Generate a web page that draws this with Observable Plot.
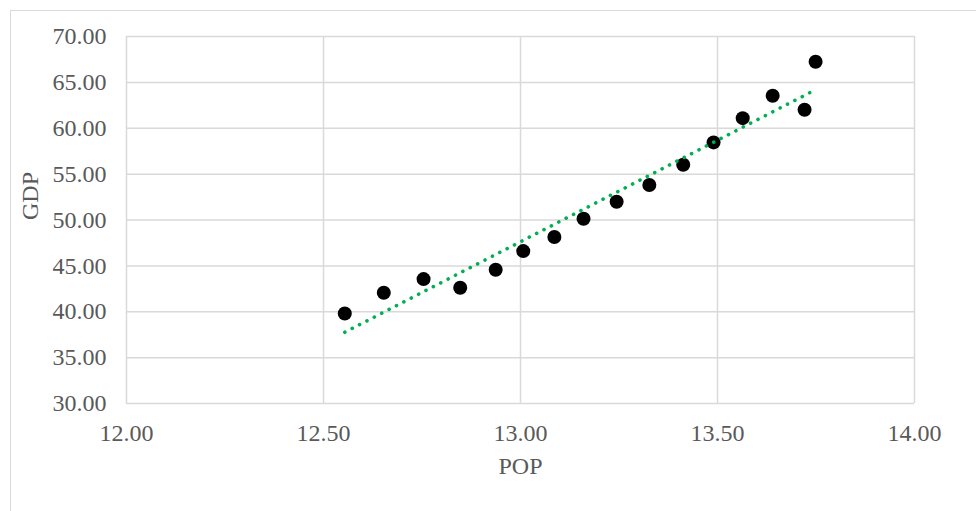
<!DOCTYPE html>
<html>
<head>
<meta charset="utf-8">
<script src="https://cdn.jsdelivr.net/npm/d3@7"></script>
<script src="https://cdn.jsdelivr.net/npm/@observablehq/plot@0.6"></script>
<style>
  html, body { margin: 0; padding: 0; background: #fff; }
  #wrap { position: relative; width: 976px; height: 511px; overflow: hidden; }
  #border {
    position: absolute; left: 10px; top: 10px; width: 1200px; height: 1200px;
    border-top: 1.5px solid #d9d9d9; border-left: 1.5px solid #d9d9d9;
  }
  #chart { position: absolute; left: 0; top: 0; }
  #chart svg { background: transparent; }
</style>
</head>
<body>
<div id="wrap"><div id="border"></div><div id="chart"></div></div>
<script>
// Population (POP) and GDP per observation
const pop = [12.554, 12.653, 12.754, 12.847, 12.937, 13.007, 13.086, 13.160,
             13.244, 13.327, 13.413, 13.490, 13.564, 13.640, 13.721, 13.749];
const gdp = [39.81, 42.07, 43.56, 42.61, 44.58, 46.61, 48.14, 50.14,
             51.99, 53.81, 56.02, 58.46, 61.10, 63.55, 62.02, 67.25];

const xTicks = [12, 12.5, 13, 13.5, 14];
const yTicks = [30, 35, 40, 45, 50, 55, 60, 65, 70];
const xTitle = "POP";
const yTitle = "GDP";

const rows = pop.map((p, i) => ({pop: p, gdp: gdp[i]}));

const font = "'Liberation Serif', 'Times New Roman', serif";
const textColor = "#595959";
const gridColor = "#d9d9d9";

const chart = Plot.plot({
  width: 976,
  height: 511,
  marginLeft: 126,
  marginRight: 62,
  marginTop: 36,
  marginBottom: 108,
  style: {fontFamily: font, fontSize: "24px", color: textColor, background: "transparent"},
  x: {domain: [12, 14]},
  y: {domain: [30, 70]},
  marks: [
    Plot.gridX(xTicks, {stroke: gridColor, strokeOpacity: 1, strokeWidth: 1.5}),
    Plot.gridY(yTicks, {stroke: gridColor, strokeOpacity: 1, strokeWidth: 1.5}),
    Plot.axisX(xTicks, {tickSize: 0, tickPadding: 20, tickFormat: d => d.toFixed(2),
      fill: textColor, fontSize: 24, label: null}),
    Plot.axisY(yTicks, {tickSize: 0, tickPadding: 20, tickFormat: d => d.toFixed(2),
      fill: textColor, fontSize: 24, label: null}),
    Plot.text([xTitle], {frameAnchor: "bottom", dy: 63, lineAnchor: "middle",
      fill: textColor, fontSize: 24}),
    Plot.text([yTitle], {frameAnchor: "left", dx: -96, rotate: -90, lineAnchor: "middle",
      fill: textColor, fontSize: 24}),
    Plot.dot(rows, {x: "pop", y: "gdp", r: 7, fill: "#000", stroke: "none"}),
    // dotted linear trend line
    Plot.linearRegressionY(rows, {x: "pop", y: "gdp", ci: 0, stroke: "#00b050",
      strokeWidth: 3.6, strokeDasharray: "0.1 8.2", strokeLinecap: "round"})
  ]
});

document.getElementById("chart").appendChild(chart);
</script>
</body>
</html>
